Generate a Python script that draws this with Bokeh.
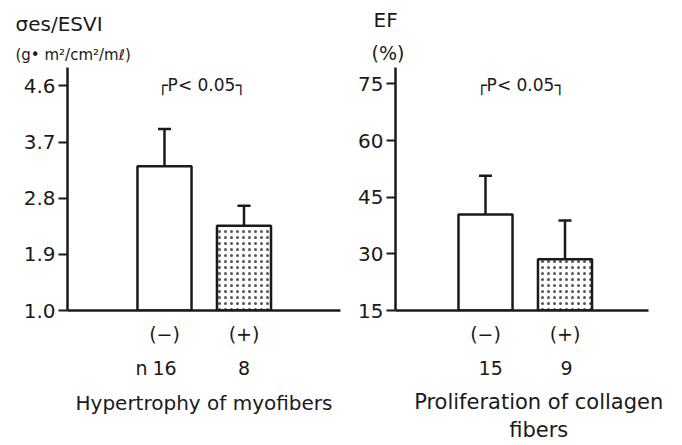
from bokeh.plotting import figure
from bokeh.models import (ColumnDataSource, Whisker, TeeHead, Label, FixedTicker,
                          Range1d, LinearAxis, Title)
from bokeh.layouts import row
from bokeh.embed import file_html
from bokeh.resources import INLINE

# ---------------- data ----------------
groups = ["(−)", "(+)"]
group_x = [1, 2]

left_means = [3.31, 2.36]
left_sd = [0.60, 0.32]
left_n = ["16", "8"]
left_ticks = [1.0, 1.9, 2.8, 3.7, 4.6]
left_title = "σes/ESVI"
left_unit = "(g• m²/cm²/mℓ)"
left_xlabel = "Hypertrophy of myofibers"

right_means = [40.4, 28.6]
right_sd = [10.3, 10.2]
right_n = ["15", "9"]
right_ticks = [15, 30, 45, 60, 75]
right_title = "EF"
right_unit = "(%)"
right_xlabel = ["Proliferation of collagen", "fibers"]

p_text = "┌P< 0.05┐"

FONT = "DejaVu Sans"
INK = "#1a1a1a"
BASE_PY = 311.5   # page y of the baseline
TOP_PY = 67       # page y of the top of the y axes
H = 445
NB = "\u00a0"


def make_panel(means, sd, ticks, fmt, y0, px_per_unit, x0, x1, width,
               border_left, border_right, n_labels, n_ticks, n_pos, n_standoff,
               xlabel, xlabel_standoff, xlabel_size, xlabel_lh,
               title, unit, title_off, unit_off, unit_size):
    y1 = y0 + (BASE_PY - TOP_PY) / px_per_unit
    p = figure(width=width, height=H, output_backend="svg", toolbar_location=None,
               x_range=Range1d(x0, x1), y_range=Range1d(y0, y1),
               min_border_left=border_left, min_border_right=border_right,
               min_border_top=TOP_PY, min_border_bottom=int(H - BASE_PY))
    p.outline_line_color = None
    p.xgrid.visible = False
    p.ygrid.visible = False

    tops = [m + s for m, s in zip(means, sd)]
    src = ColumnDataSource(dict(x=group_x, top=means, err=tops,
                                hatch=["blank", "dot"]))
    p.vbar(x="x", top="top", bottom=y0, width=0.68, source=src,
           fill_color="white", line_color=INK, line_width=2.5,
           hatch_pattern="hatch", hatch_color="#555555", hatch_scale=6,
           hatch_weight=1.5)
    p.add_layout(Whisker(base="x", lower="top", upper="err", source=src,
                         line_color=INK, line_width=2.5, lower_head=None,
                         upper_head=TeeHead(size=13, line_color=INK,
                                            line_width=2.5)))

    # y axis
    ax = p.yaxis[0]
    ax.ticker = FixedTicker(ticks=ticks)
    ax.major_label_overrides = {t: fmt(t) for t in ticks}
    ax.axis_line_width = 2.5
    ax.axis_line_color = INK
    ax.major_tick_line_width = 2.2
    ax.major_tick_line_color = INK
    ax.major_tick_out = 9
    ax.major_tick_in = 0
    ax.minor_tick_line_color = None
    ax.major_label_standoff = 3
    ax.major_label_text_font = FONT
    ax.major_label_text_font_size = "20px"
    ax.major_label_text_color = INK

    # x axis: baseline with group labels
    bx = p.xaxis[0]
    bx.ticker = FixedTicker(ticks=group_x)
    bx.major_label_overrides = {gx: g for gx, g in zip(group_x, groups)}
    bx.axis_line_width = 2.5
    bx.axis_line_color = INK
    bx.major_tick_line_color = None
    bx.minor_tick_line_color = None
    bx.major_label_standoff = 6
    bx.major_label_text_font = FONT
    bx.major_label_text_font_size = "19px"
    bx.major_label_text_color = INK

    # second axis below: group sizes and the factor name
    ticks2 = list(n_ticks) + ([n_pos] if n_pos is not None else [])
    over2 = {t: n for t, n in zip(n_ticks, n_labels)}
    if n_pos is not None:
        over2[n_pos] = "n"
    ax2 = LinearAxis(ticker=FixedTicker(ticks=ticks2),
                     major_label_overrides=over2,
                     axis_line_color=None, major_tick_line_color=None,
                     minor_tick_line_color=None, major_label_standoff=n_standoff,
                     major_label_text_font=FONT,
                     major_label_text_font_size="19px",
                     major_label_text_color=INK,
                     axis_label=xlabel, axis_label_standoff=xlabel_standoff,
                     axis_label_text_font=FONT,
                     axis_label_text_font_size=xlabel_size,
                     axis_label_text_font_style="normal",
                     axis_label_text_color=INK,
                     axis_label_text_line_height=xlabel_lh)
    p.add_layout(ax2, "below")

    # labels above the axis
    p.add_layout(Title(text=unit, align="left", offset=unit_off,
                       text_font=FONT, text_font_size=unit_size,
                       text_font_style="normal", text_color=INK,
                       standoff=8), "above")
    p.add_layout(Title(text=title, align="left", offset=title_off,
                       text_font=FONT, text_font_size="20px",
                       text_font_style="normal", text_color=INK,
                       standoff=8), "above")
    return p


# ---------------- left panel ----------------
L_ppu = 56.5 / 0.9
L_x = lambda px: 1 + (px - 164) / 79.5
pL = make_panel(left_means, left_sd, left_ticks, lambda t: f"{t:.1f}",
                1.0, L_ppu, L_x(67), L_x(340), 341, 67, 1,
                left_n, group_x, 0.71, 3, left_xlabel, 9, "20px", 1.35,
                left_title, left_unit, -52, -52, "15px")
pL.add_layout(Label(x=L_x(201), y=1.0 + (BASE_PY - 85) / L_ppu, text=p_text,
                    text_font=FONT, text_font_size="17px", text_color=INK,
                    text_align="center", text_baseline="middle"))

# ---------------- right panel ----------------
R_ppu = 57 / 15
R_x = lambda px: 1 + (px - 485) / 79.5
r_label = "\n".join(NB * 5 + line for line in right_xlabel)
pR = make_panel(right_means, right_sd, right_ticks, lambda t: f"{t:d}",
                15, R_ppu, R_x(395), R_x(648), 341, 54, 34,
                right_n, [1.065, 2.02], None, 7, r_label, 12, "21px", 1.2,
                right_title, right_unit, -22, -24, "19px")
pR.add_layout(Label(x=R_x(520), y=15 + (BASE_PY - 85) / R_ppu, text=p_text,
                    text_font=FONT, text_font_size="17px", text_color=INK,
                    text_align="center", text_baseline="middle"))

layout = row(pL, pR)
open("out.html", "w").write(file_html(layout, INLINE))
